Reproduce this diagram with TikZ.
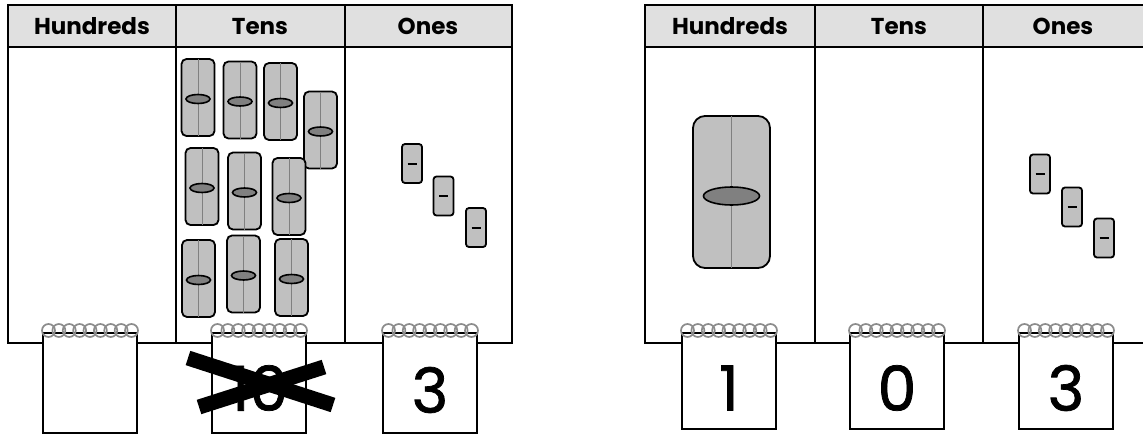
\documentclass[tikz,border=0pt]{standalone}
\usepackage{fontspec}
\setmainfont{Poppins}
\newfontfamily\cardfont[FakeBold=1.2]{Poppins}
\usepackage{tikz}
\usetikzlibrary{arrows}

\definecolor{headgray}{HTML}{E0E0E0}
\definecolor{rodgray}{HTML}{C0C0C0}
\definecolor{beadgray}{HTML}{808080}
\definecolor{ringgray}{HTML}{8C8C8C}

\tikzset{
  head/.style={anchor=base,font=\fontsize{23}{26}\selectfont\bfseries},
  digit/.style={font=\cardfont\fontsize{62}{70}\selectfont},
  rod/.style={draw,line width=1.8pt,fill=rodgray,rounded corners=5pt},
  bead/.style={draw,line width=1.6pt,fill=beadgray},
  rule/.style={line width=2pt},
}

\begin{document}
\begin{tikzpicture}[x=1pt,y=-1pt]
\useasboundingbox (0,0) rectangle (1143,434);
\clip (0,0) rectangle (1143,434);
\foreach \xl/\xa/\xb/\xr in {8/176/345/512, 645/815/983/1160} {
  \fill[headgray] (\xl,5) rectangle (\xr,47);
  \draw[rule] (\xl,5) rectangle (\xr,343);
  \draw[rule] (\xl,47) -- (\xr,47);
  \draw[rule] (\xa,5) -- (\xa,343);
  \draw[rule] (\xb,5) -- (\xb,343);
}
\node[head] (lh) at (92,34)   {Hundreds};
\node[head] (lt) at (260,34)  {Tens};
\node[head] (lo) at (428,34)  {Ones};
\node[head] (rh) at (730,34)  {Hundreds};
\node[head] (rt) at (899,34)  {Tens};
\node[head] (ro) at (1063,34) {Ones};

\foreach \cx/\cy in {198/97.5, 240/100, 280.5/101.5, 320.5/130,
                     202/186.5, 244.5/191, 289/196.5,
                     198.5/278.5, 243.5/274, 291.5/277.5} {
  \draw[rod] (\cx-16.5,\cy-38.5) rectangle (\cx+16.5,\cy+38.5);
  \draw[gray,line width=.8pt] (\cx,\cy-38.5) -- (\cx,\cy+38.5);
  \draw[bead] (\cx,\cy+1.5) ellipse (12pt and 4.5pt);
}

\draw[rod,rounded corners=12pt] (693,116) rectangle (770,268);
\draw[gray,line width=.8pt] (731.5,116) -- (731.5,268);
\draw[bead] (731.5,196) ellipse (28pt and 9pt);

\foreach \cx/\cy in {412/163.5, 443.5/196, 476/227.5,
                     1040/174, 1072/207, 1104/238} {
  \draw[rod,rounded corners=3pt] (\cx-10,\cy-19.5) rectangle (\cx+10,\cy+19.5);
  \draw[line width=2pt] (\cx-4.5,\cy) -- (\cx+4.5,\cy);
}

\foreach \cx/\cb in {43/433, 212/433, 383/433, 682/429, 850/429, 1019/429} {
  \fill[white] (\cx,333) rectangle (\cx+94,\cb);
  \draw[line width=1.2pt] (\cx,333) -- (\cx,\cb) -- (\cx+94,\cb) -- (\cx+94,333);
  \draw[line width=2pt] (\cx,333) -- (\cx+94,333);
  \foreach \k in {0,...,8}
    \draw[ringgray,line width=1.7pt] (\cx+5.5+\k*10.375,330.5) circle (6.5pt);
}

\node[digit] (lten) at (259,388)  {10};
\node[digit] (lone) at (430,390)  {3};
\node[digit] (rhun) at (729,388)  {1};
\node[digit] (rten) at (897,388)  {0};
\node[digit] (rone) at (1066,388) {3};

\draw[line width=15pt] (188,358) -- (333,405);
\draw[line width=15pt] (199,407) -- (324,367);
\end{tikzpicture}
\end{document}
